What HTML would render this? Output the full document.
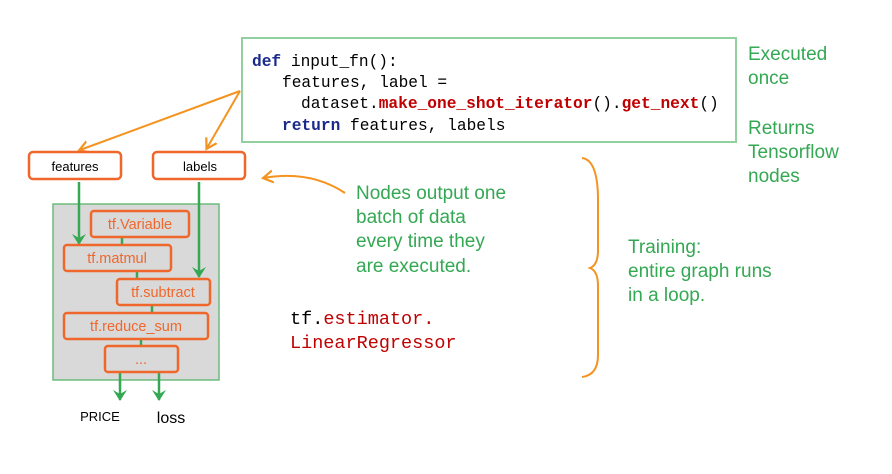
<!DOCTYPE html>
<html><head><meta charset="utf-8"><style>
html,body{margin:0;padding:0;background:#fff;}
svg{display:block;}
</style></head><body>
<svg width="892" height="474" viewBox="0 0 892 474" xmlns="http://www.w3.org/2000/svg">
<defs>
<marker id="og" markerWidth="14" markerHeight="14" refX="9" refY="7" orient="auto" markerUnits="userSpaceOnUse"><path d="M0,1 L10,7 L0,13" fill="none" stroke="#f4931f" stroke-width="2.2"/></marker>
<marker id="gr" markerWidth="16" markerHeight="16" refX="10" refY="8" orient="auto" markerUnits="userSpaceOnUse"><path d="M0,1 L11,8 L0,15 L4,8 Z" fill="#34a853"/></marker>
</defs>
<rect x="242" y="38" width="494" height="104" fill="#fff" stroke="#93d0a0" stroke-width="2"/>
<g font-family="Liberation Mono, monospace" font-size="16.2">
<text x="252" y="66"><tspan fill="#1a2a8c" font-weight="bold">def</tspan> input_fn():</text>
<text x="282" y="87">features, label =</text>
<text x="301" y="108">dataset.<tspan fill="#c00000" font-weight="bold">make_one_shot_iterator</tspan>().<tspan fill="#c00000" font-weight="bold">get_next</tspan>()</text>
<text x="282" y="130"><tspan fill="#1a2a8c" font-weight="bold">return</tspan> features, labels</text>
</g>
<g font-family="Liberation Sans, sans-serif" font-size="19" fill="#34a853">
<text x="748" y="60">Executed</text><text x="748" y="84">once</text>
<text x="748" y="134">Returns</text><text x="748" y="158">Tensorflow</text><text x="748" y="182">nodes</text>
<text x="356" y="199">Nodes output one</text><text x="356" y="223">batch of data</text><text x="356" y="247">every time they</text><text x="356" y="272">are executed.</text>
<text x="628" y="253">Training:</text><text x="628" y="277">entire graph runs</text><text x="628" y="301">in a loop.</text>
</g>
<g fill="none" stroke="#f4931f" stroke-width="2">
<path d="M240,91 L80,150" marker-end="url(#og)"/>
<path d="M240,91 L207,148" marker-end="url(#og)"/>
<path d="M345,193 Q310,170 264,178" marker-end="url(#og)"/>
<path d="M582,158 Q598,160 598,200 L598,250 Q598,265 590,268 Q598,271 598,286 L598,355 Q598,375 582,377"/>
</g>
<g stroke="#f0672c" stroke-width="2.5" fill="#fff">
<rect x="29" y="152" width="92" height="27" rx="4"/>
<rect x="153" y="152" width="92" height="27" rx="4"/>
</g>
<g font-family="Liberation Sans, sans-serif" font-size="13" fill="#000" text-anchor="middle">
<text x="75" y="171">features</text><text x="200" y="171">labels</text>
<text x="100" y="421">PRICE</text>
</g>
<text x="171" y="423" font-family="Liberation Sans, sans-serif" font-size="16" text-anchor="middle">loss</text>
<rect x="53" y="204" width="166" height="176" fill="#d9d9d9" stroke="#6dbb7c" stroke-width="1.5"/>
<g stroke="#34a853" stroke-width="2.5">
<line x1="122" y1="236" x2="122" y2="246"/><line x1="137" y1="270" x2="137" y2="280"/>
<line x1="152" y1="304" x2="152" y2="314"/><line x1="141" y1="338" x2="141" y2="347"/>
<line x1="79" y1="182" x2="79" y2="244" marker-end="url(#gr)"/>
<line x1="199" y1="182" x2="199" y2="277" marker-end="url(#gr)"/>
<line x1="120" y1="372" x2="120" y2="400" marker-end="url(#gr)"/>
<line x1="159" y1="372" x2="159" y2="400" marker-end="url(#gr)"/>
</g>
<g stroke="#f0672c" stroke-width="2.5" fill="#d9d9d9">
<rect x="91" y="211" width="98" height="26" rx="3"/>
<rect x="64" y="245" width="107" height="26" rx="3"/>
<rect x="117" y="279" width="93" height="26" rx="3"/>
<rect x="64" y="313" width="144" height="26" rx="3"/>
<rect x="105" y="346" width="73" height="26" rx="3"/>
</g>
<g font-family="Liberation Sans, sans-serif" font-size="14.5" fill="#f0672c" text-anchor="middle">
<text x="140" y="229">tf.Variable</text>
<text x="117" y="263">tf.matmul</text>
<text x="163" y="297">tf.subtract</text>
<text x="136" y="331">tf.reduce_sum</text>
<text x="141" y="364">...</text>
</g>
<g font-family="Liberation Mono, monospace" font-size="18.5">
<text x="290" y="324">tf.<tspan fill="#c00000">estimator.</tspan></text>
<text x="290" y="348" fill="#c00000">LinearRegressor</text>
</g>
</svg>
</body></html>
